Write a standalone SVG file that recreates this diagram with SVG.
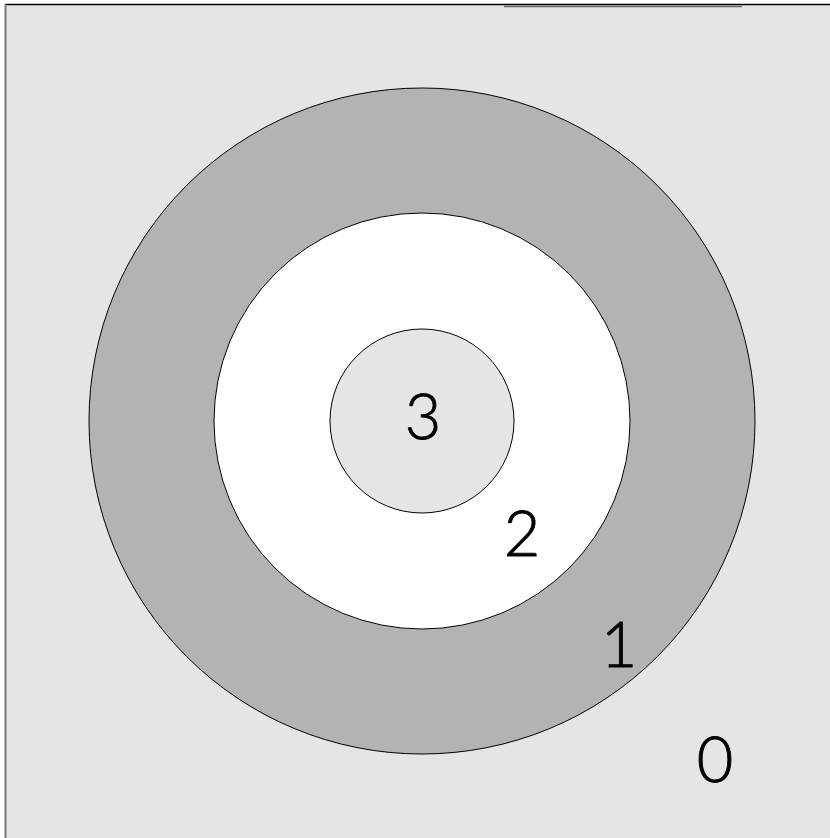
<svg xmlns="http://www.w3.org/2000/svg" width="830" height="838" viewBox="0 0 830 838">
<style>
.ring{stroke:#000;stroke-width:1}
.lbl{font-family:"Lato","Liberation Sans",sans-serif;font-weight:300;font-size:63px;fill:#000;stroke:#000;stroke-width:0.9;text-anchor:middle}
</style>
<rect x="0" y="0" width="830" height="838" fill="#ffffff"/>
<g id="region0">
<rect x="5" y="5" width="830" height="840" fill="#e5e5e5"/>
<line x1="5" y1="4.5" x2="830" y2="4.5" stroke="#000" stroke-width="1.5"/>
<line x1="5.5" y1="4" x2="5.5" y2="838" stroke="#777" stroke-width="2"/>
<line x1="504" y1="6.5" x2="742" y2="6.5" stroke="#666" stroke-width="1.5"/>
<text class="lbl" x="715" y="782">0</text>
</g>
<g id="region1">
<circle class="ring" cx="422" cy="421" r="333" fill="#b3b3b3"/>
<text class="lbl" x="619" y="667">1</text>
</g>
<g id="region2">
<circle class="ring" cx="422" cy="421" r="208" fill="#ffffff"/>
<text class="lbl" x="522" y="556">2</text>
</g>
<g id="region3">
<circle class="ring" cx="422" cy="421" r="92" fill="#e5e5e5"/>
<text class="lbl" x="423" y="439">3</text>
</g>
</svg>
